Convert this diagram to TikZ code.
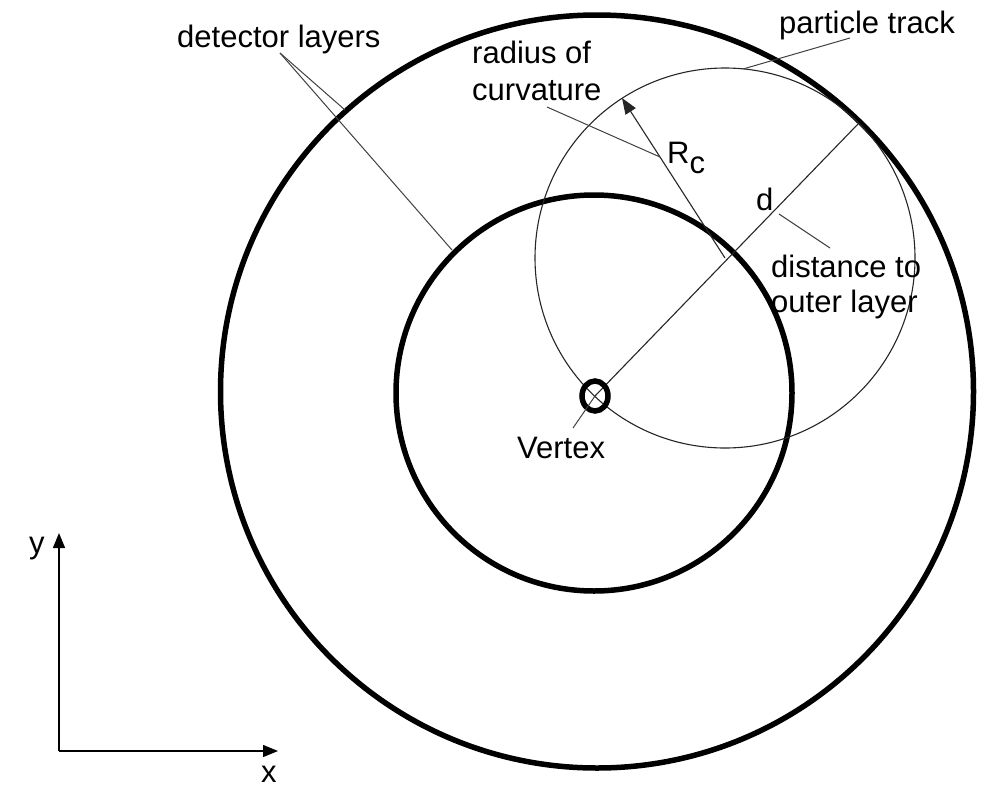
\documentclass[tikz,border=0pt]{standalone}
\usepackage{fontspec}
\setmainfont{Liberation Sans}
\usetikzlibrary{arrows.meta}
\begin{document}
\begin{tikzpicture}[x=1pt,y=-1pt,
  layer/.style={line width=5.5pt},
  trackline/.style={line width=1.1pt, black!85},
  leader/.style={line width=1pt, black!75},
  lbl/.style={anchor=base west, inner sep=0pt, font=\fontsize{31}{37}\selectfont},
  axisline/.style={line width=1.4pt, -{Triangle[length=15pt,width=12pt]}},
  rcarrow/.style={line width=1.1pt, black!85, -{Triangle[length=16pt,width=12pt]}},
]
\useasboundingbox (0,0) rectangle (990,790);
% centres and points
\coordinate (V) at (595,396);
\coordinate (TC) at (725,258);
\coordinate (Rtip) at (622,98);
\coordinate (Dend) at (858,124);
% detector layers
\draw[layer] (597,391.5) circle[radius=376.5];
\draw[layer] (594,393) circle[radius=198];
% particle track
\draw[trackline] (TC) circle[radius=190];
% radius of curvature
\draw[rcarrow] (TC) -- (Rtip);
% distance line
\draw[trackline] (V) -- (Dend);
% vertex
\draw[line width=5.5pt] (V) ellipse[x radius=13, y radius=15];
% labels
\node[lbl] (tdet) at (177,47) {detector layers};
\node[lbl] (tpart) at (779,33) {particle track};
\node[lbl] (trad1) at (472,63) {radius of};
\node[lbl] (trad2) at (472,100) {curvature};
\node[lbl] (tR) at (667,163) {R\raisebox{-10pt}{c}};
\node[lbl] (td) at (756,210) {d};
\node[lbl] (tdist1) at (771,277) {distance to};
\node[lbl] (tdist2) at (771,312) {outer layer};
\node[lbl] (tvert) at (517,458) {Vertex};
\node[lbl] (ty) at (29,553) {y};
\node[lbl] (tx) at (261,782) {x};
% leader lines
\coordinate (detA) at (280,53);
\coordinate (detO) at (345,110);
\coordinate (detI) at (452,250);
\draw[leader] (detA) -- (detO);
\draw[leader] (detA) -- (detI);
\coordinate (partA) at (850,38);
\coordinate (partB) at (743,69);
\draw[leader] (partA) -- (partB);
\coordinate (radA) at (547,107);
\coordinate (radB) at (660,157);
\draw[leader] (radA) -- (radB);
\coordinate (distA) at (779,214);
\coordinate (distB) at (830,248);
\draw[leader] (distA) -- (distB);
\coordinate (vertB) at (573,428);
\draw[leader] (V) -- (vertB);
% axes
\coordinate (O) at (59,751);
\coordinate (Ytip) at (59,533);
\coordinate (Xtip) at (278,751);
\draw[axisline] (O) -- (Ytip);
\draw[axisline] (O) -- (Xtip);
\end{tikzpicture}
\end{document}
